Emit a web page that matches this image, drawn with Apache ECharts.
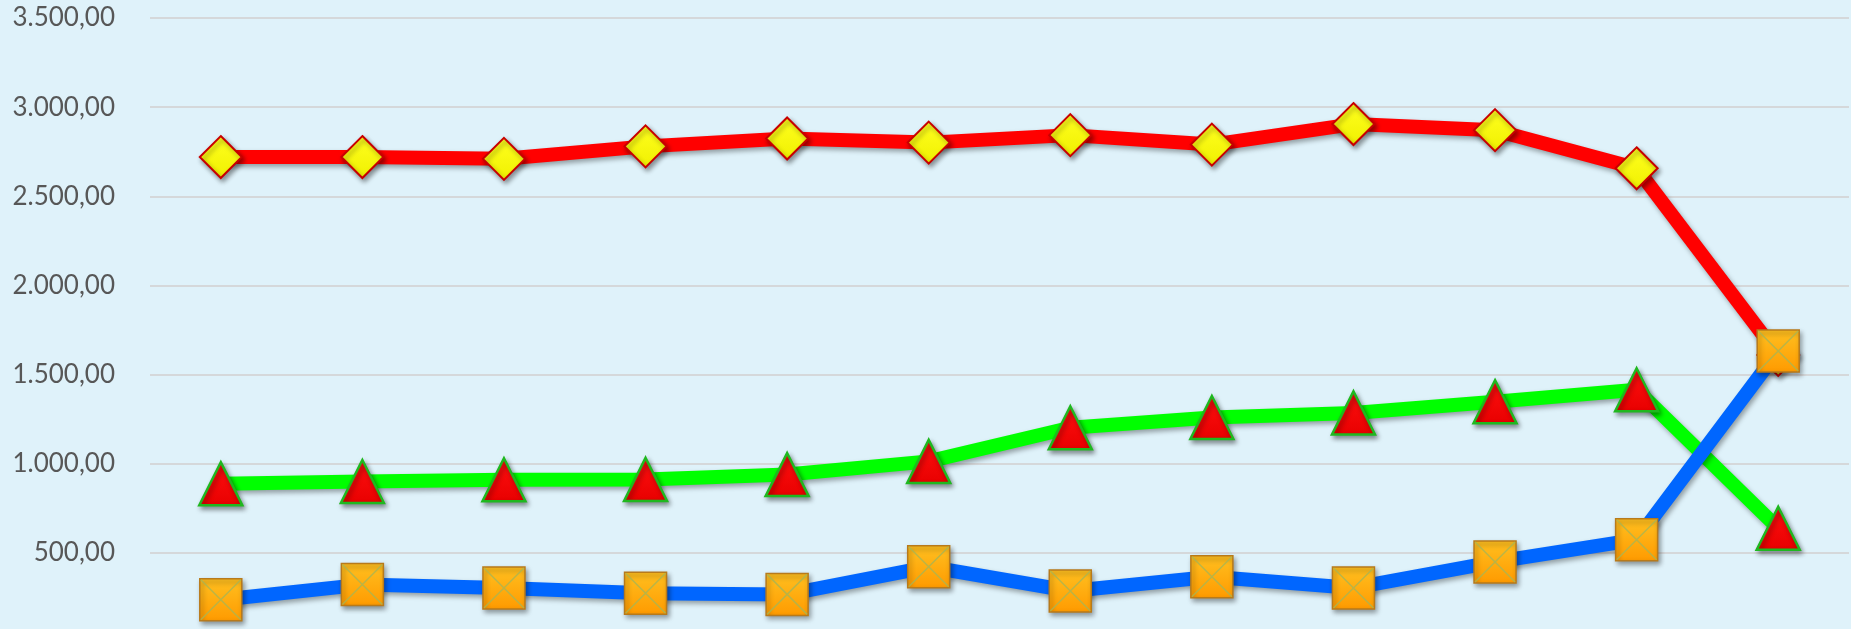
<!DOCTYPE html>
<html>
<head>
<meta charset="utf-8">
<script src="https://cdn.jsdelivr.net/npm/echarts@6/dist/echarts.min.js"></script>
<style>
html,body{margin:0;padding:0;background:#dff2fa;overflow:hidden;}
#c{width:1851px;height:629px;}
</style>
</head>
<body>
<div id="c"></div>
<script>
const categories = ['1','2','3','4','5','6','7','8','9','10','11','12'];
const redSeries   = [2720, 2720, 2710, 2780, 2824, 2801, 2843, 2790, 2905, 2871, 2657, 1610];
const greenSeries = [888, 900, 910, 912, 939, 1013, 1202, 1259, 1285, 1348, 1415, 638];
const blueSeries  = [237, 322, 303, 273, 267, 422, 286, 366, 303, 449, 574, 1632];
const yTicks = {min: 0, max: 3500, interval: 500};

function fmt(v){
  const s = Number(v).toFixed(2).split('.');
  return s[0].replace(/\B(?=(\d{3})+(?!\d))/g, '.') + ',' + s[1];
}
function grad(c1, c2){
  return new echarts.graphic.LinearGradient(0,0,0,1,[{offset:0,color:c1},{offset:1,color:c2}]);
}
const lineShadow = {shadowColor:'rgba(0,0,0,0.35)', shadowBlur:5, shadowOffsetX:2, shadowOffsetY:3};
const markShadow = {shadowColor:'rgba(0,0,0,0.4)', shadowBlur:5, shadowOffsetX:2, shadowOffsetY:3};

const chart = echarts.init(document.getElementById('c'), null, {renderer:'canvas'});
chart.setOption({
  backgroundColor: '#dff2fa',
  animation: false,
  grid: {left: 150, right: 2, top: 18, bottom: -13, outerBoundsMode: 'none', containLabel: false},
  xAxis: {
    type: 'category', data: categories, boundaryGap: true,
    axisLine: {show: false}, axisTick: {show: false}, axisLabel: {show: false},
    splitLine: {show: false}
  },
  yAxis: {
    type: 'value', min: yTicks.min, max: yTicks.max, interval: yTicks.interval,
    axisLine: {show: false}, axisTick: {show: false},
    axisLabel: {formatter: fmt, color: '#575757', fontSize: 26, fontFamily: 'Lato', margin: 35},
    splitLine: {lineStyle: {color: '#d5d8da', width: 2}}
  },
  series: [
    {
      type: 'line', data: redSeries, z: 2,
      lineStyle: Object.assign({color: '#ff0000', width: 14}, lineShadow),
      symbol: 'diamond', symbolSize: 42,
      itemStyle: Object.assign({color: grad('#ffff20', '#f0f000'), borderColor: '#c80000', borderWidth: 2}, markShadow)
    },
    {
      type: 'line', data: greenSeries, z: 3,
      lineStyle: Object.assign({color: '#00ff00', width: 14}, lineShadow),
      symbol: 'triangle', symbolSize: [43, 43],
      itemStyle: Object.assign({color: grad('#ff1010', '#e80000'), borderColor: '#1fb81f', borderWidth: 2.5}, markShadow)
    },
    {
      type: 'line', data: blueSeries, z: 4,
      lineStyle: Object.assign({color: '#0066ff', width: 14}, lineShadow),
      symbol: 'rect', symbolSize: 42,
      itemStyle: Object.assign({color: grad('#ffc020', '#ff9a00'), borderColor: '#b87a1a', borderWidth: 1.5}, markShadow)
    },
    {
      type: 'scatter', data: blueSeries, z: 5, silent: true,
      symbol: 'path://M0,0L10,10M10,0L0,10', symbolSize: 40,
      itemStyle: {color: 'none', borderColor: '#a9b552', borderWidth: 1.5}
    }
  ]
});
</script>
</body>
</html>
